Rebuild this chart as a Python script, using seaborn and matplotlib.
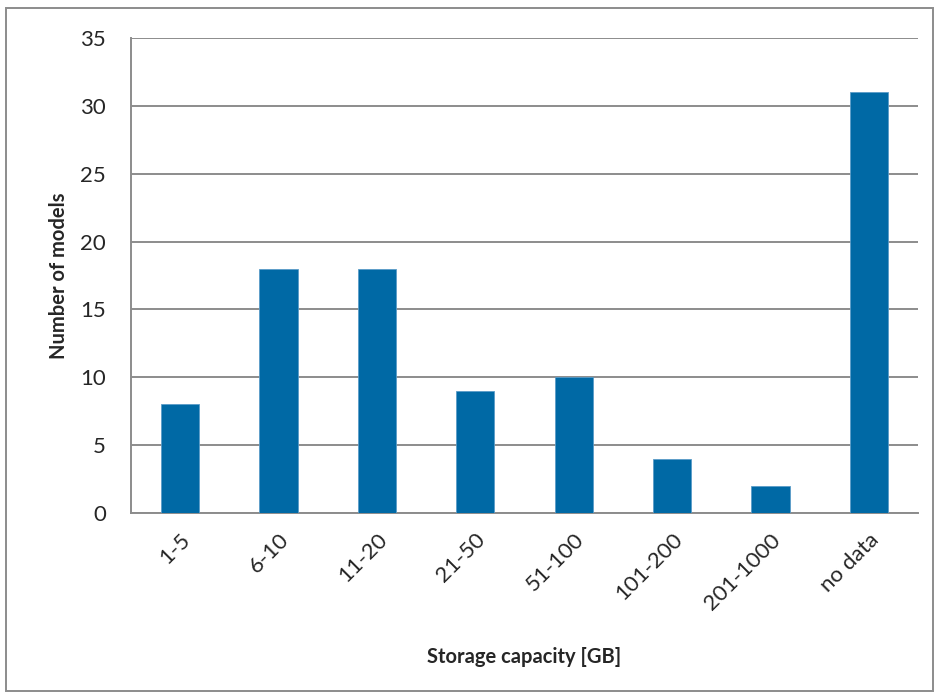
import pandas as pd
import numpy as np
import matplotlib.pyplot as plt
import seaborn as sns
from matplotlib.patches import Rectangle

categories = ['1-5', '6-10', '11-20', '21-50', '51-100', '101-200', '201-1000', 'no data']
models = [8, 18, 18, 9, 10, 4, 2, 31]

df = pd.DataFrame({'capacity': categories, 'models': models})

sns.set_style('white')
plt.rcParams['font.family'] = ['Lato', 'DejaVu Sans']

fig = plt.figure(figsize=(9.35, 6.93), dpi=100)
ax = fig.add_axes([131/935, 1-513/693, (918-131)/935, (513-38)/693])

sns.barplot(x='capacity', y='models', data=df, color='#0069A5', saturation=1,
            width=0.39, errorbar=None, ax=ax, zorder=3, edgecolor='#5A9CC8', linewidth=0.6)

ax.set_ylim(0, 35)
ax.set_yticks(range(0, 36, 5))
ax.yaxis.grid(True, color='#8C8C8C', linewidth=1.4, zorder=0)
ax.set_axisbelow(True)
for s in ['top', 'right']:
    ax.spines[s].set_visible(False)
for s in ['left', 'bottom']:
    ax.spines[s].set_color('#8C8C8C')
    ax.spines[s].set_linewidth(1.4)
ax.tick_params(axis='y', labelsize=16, length=0, pad=18)
ax.tick_params(axis='x', labelsize=16, length=0, pad=12)
plt.setp(ax.get_xticklabels(), rotation=45, ha='right', rotation_mode='anchor')
ax.set_xlabel('Storage capacity [GB]', fontsize=14.5, fontweight='bold', labelpad=24)
ax.set_ylabel('Number of models', fontsize=14.5, fontweight='bold', labelpad=8)

fig.patches.append(Rectangle((6/935, 1-691/693), 927/935, 683/693, transform=fig.transFigure,
                             fill=False, edgecolor='#8C8C8C', linewidth=1.4))

fig.savefig('out.png', dpi=100)
plt.close(fig)
